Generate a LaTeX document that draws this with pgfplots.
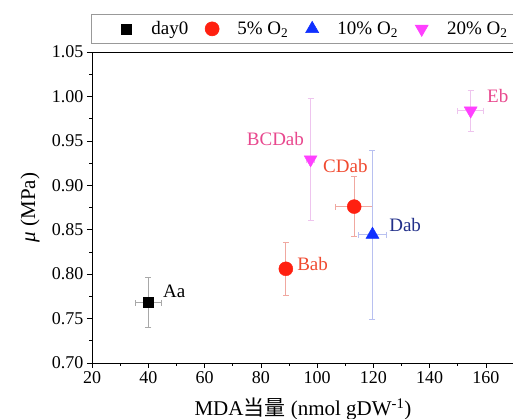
\documentclass[border=0pt]{standalone}
\usepackage{fontspec}
\setmainfont{Liberation Serif}
\newfontfamily\cjk{Noto Sans CJK SC}
\usepackage{pgfplots}
\pgfplotsset{compat=1.18}
\definecolor{c0}{HTML}{000000}
\definecolor{c0e}{HTML}{A8A8A8}
\definecolor{c5}{HTML}{FF2010}
\definecolor{c5e}{HTML}{F0A8A0}
\definecolor{c5t}{HTML}{F04A30}
\definecolor{c10}{HTML}{1030FF}
\definecolor{c10e}{HTML}{B8C0F0}
\definecolor{c10t}{HTML}{22308A}
\definecolor{c20}{HTML}{FF40FF}
\definecolor{c20e}{HTML}{EEC4EE}
\definecolor{c20t}{HTML}{E8488E}
\begin{document}
\begin{tikzpicture}
\begin{axis}[
  at={(0,0)}, anchor=south west,
  scale only axis, width=422pt, height=311pt,
  xmin=20, xmax=170, ymin=0.70, ymax=1.05,
  xtick={20,40,...,160}, ytick={0.70,0.75,...,1.051},
  minor x tick num=1, minor y tick num=1,
  tick align=outside, major tick length=5pt, minor tick length=3pt,
  xtick pos=bottom, ytick pos=left,
  axis line style={line width=0.8pt},
  tick style={black, line width=0.6pt},
  tick label style={font=\fontsize{18}{21}\selectfont},
  /pgf/number format/assume math mode=true,
  yticklabel style={/pgf/number format/.cd, fixed, fixed zerofill, precision=2},
  xticklabel style={/pgf/number format/.cd, fixed},
  label style={font=\fontsize{21}{25}\selectfont},
  xlabel={MDA{\cjk 当量} (nmol gDW\textsuperscript{-1})},
  ylabel={\textit{μ} (MPa)},
  xlabel style={at={(axis description cs:0.5,-0.148)}, anchor=center},
  ylabel style={at={(axis description cs:-0.147,0.5)}, anchor=center},
  legend columns=4,
  legend style={at={(axis description cs:0,1)}, anchor=south west, xshift=-1pt, yshift=8pt,
    draw=gray!80, line width=0.6pt, inner xsep=17pt, inner ysep=5.5pt,
    font=\fontsize{19}{22}\selectfont,
    nodes={inner sep=2pt},
    /tikz/every even column/.append style={column sep=4pt}},
  legend cell align=left,
  legend image code/.code={\draw[#1] plot coordinates {(0pt,0pt)}; \path (-17.5pt,0pt) (23pt,0pt);},
  error bars/x dir=both, error bars/x explicit,
  error bars/y dir=both, error bars/y explicit,
  clip=false,
]
\addplot[only marks, mark=square*, mark size=5pt, color=c0,
  error bars/error bar style={color=c0e, line width=0.8pt},
  error bars/error mark options={rotate=90, color=c0e, mark size=3pt, line width=0.8pt}]
  coordinates {(40,0.768) +- (4.7,0.028)};
\addlegendentry{day0}
\addplot[only marks, mark=*, mark size=7pt, color=c5,
  error bars/error bar style={color=c5e, line width=0.8pt},
  error bars/error mark options={rotate=90, color=c5e, mark size=3pt, line width=0.8pt}]
  coordinates {(88.9,0.806) +- (1.0,0.030) (113.2,0.876) +- (6.6,0.034)};
\addlegendentry{5\% O\textsubscript{2}}
\addplot[only marks, mark=triangle*, mark size=7.5pt, color=c10,
  error bars/error bar style={color=c10e, line width=0.8pt},
  error bars/error mark options={rotate=90, color=c10e, mark size=3pt, line width=0.8pt}]
  coordinates {(119.7,0.8445) +- (4.9,0.095)};
\addlegendentry{10\% O\textsubscript{2}}
\addplot[only marks, mark=triangle*, mark size=7.5pt, color=c20, mark options={rotate=180},
  error bars/error bar style={color=c20e, line width=0.8pt},
  error bars/error mark options={rotate=90, color=c20e, mark size=3pt, line width=0.8pt}]
  coordinates {(97.7,0.929) +- (1.5,0.069) (154.6,0.984) +- (4.6,0.023)};
\addlegendentry{20\% O\textsubscript{2}}
\begin{scope}[every node/.style={font=\fontsize{19}{22}\selectfont, inner sep=0pt}]
\node[anchor=west, text=black] at (axis cs:45.2,0.781) {Aa};
\node[anchor=west, text=c5t] at (axis cs:92.9,0.8117) {Bab};
\node[anchor=west, text=c5t] at (axis cs:102.1,0.9212) {CDab};
\node[anchor=west, text=c10t] at (axis cs:125.6,0.8558) {Dab};
\node[anchor=east, text=c20t] at (axis cs:95.4,0.9517) {BCDab};
\node[anchor=west, text=c20t] at (axis cs:160.4,1.0002) {Eb};
\end{scope}
\end{axis}
\pgfresetboundingbox
\useasboundingbox (-92pt,-56pt) rectangle (421pt,363pt);
\end{tikzpicture}
\end{document}
